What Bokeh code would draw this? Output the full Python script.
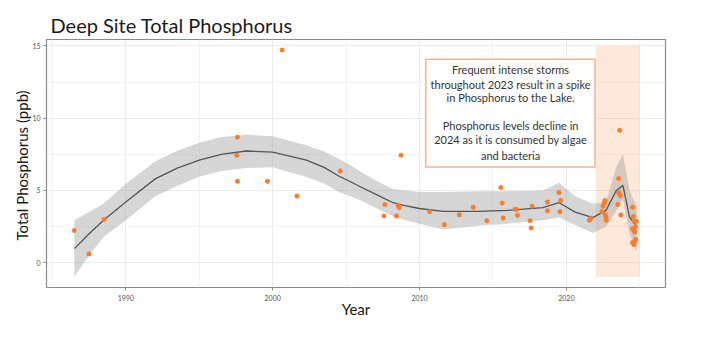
from bokeh.plotting import figure
from bokeh.models import FixedTicker, Range1d
from bokeh.core.properties import value
from bokeh.embed import file_html
from bokeh.resources import INLINE

# ---- data ----
years = [1986.49, 1987.49, 1988.53,
         1997.6, 1997.56, 1997.6, 1999.64, 2000.64, 2001.65, 2004.6,
         2008.74, 2007.65, 2007.58, 2008.55, 2008.62, 2008.43,
         2010.69, 2011.69, 2012.71, 2013.66, 2014.59, 2015.54, 2015.63, 2015.7,
         2016.51, 2016.6, 2016.67, 2017.53, 2017.6, 2017.67, 2018.71, 2018.71,
         2019.49, 2019.62, 2019.56, 2021.57, 2021.66,
         2022.63, 2022.58, 2022.5, 2022.43, 2022.63, 2022.7, 2022.72,
         2023.63, 2023.56, 2023.56, 2023.67, 2023.5, 2023.71,
         2024.51, 2024.56, 2024.62, 2024.76, 2024.51, 2024.58, 2024.65, 2024.72,
         2024.72, 2024.51, 2024.6, 2024.65]
phosphorus = [2.22, 0.6, 3.0,
              8.68, 7.43, 5.63, 5.63, 14.72, 4.61, 6.34,
              7.43, 4.02, 3.23, 3.97, 3.81, 3.23,
              3.53, 2.63, 3.32, 3.83, 2.91, 5.21, 4.13, 3.09,
              3.69, 3.69, 3.28, 2.91, 2.4, 3.9, 4.2, 3.6,
              4.85, 4.31, 3.53, 2.93, 3.07,
              4.31, 4.15, 3.9, 3.55, 3.34, 3.16, 2.93,
              9.16, 5.82, 4.85, 4.64, 4.02, 3.3,
              3.83, 3.21, 2.88, 2.86, 2.35, 2.29, 2.12, 2.49,
              1.61, 1.39, 1.25, 1.43]

fit_year = [1986.5, 1987.5, 1988.5, 1990.0, 1992.0, 1993.5, 1995.0, 1996.5,
            1998.2, 2000.0, 2002.3, 2003.5, 2004.5, 2005.3, 2006.0, 2007.0,
            2008.2, 2009.0, 2010.0, 2011.6, 2014.0, 2016.0, 2018.4,
            2019.5, 2020.6, 2021.8, 2022.7, 2023.4, 2023.85, 2024.3, 2024.8]
fit_val = [0.97, 2.0, 2.95, 4.2, 5.8, 6.55, 7.1, 7.5,
           7.73, 7.65, 7.1, 6.6, 6.0, 5.6, 5.24, 4.75,
           4.15, 3.95, 3.75, 3.55, 3.55, 3.62, 3.81,
           4.15, 3.5, 3.12, 3.62, 5.0, 5.35, 3.16, 2.5]
fit_lo = [-0.95, 0.5, 1.8, 2.93, 4.6, 5.3, 5.95, 6.35,
          6.55, 6.6, 5.93, 5.5, 4.9, 4.6, 4.3, 3.8,
          3.2, 2.95, 2.7, 2.3, 2.55, 2.7, 2.93,
          3.12, 2.6, 2.05, 2.5, 3.6, 4.4, 2.0, 0.73]
fit_hi = [2.93, 3.5, 4.1, 5.47, 7.0, 7.75, 8.3, 8.7,
          8.86, 8.75, 8.12, 7.7, 7.2, 6.75, 6.3, 5.7,
          5.1, 5.0, 4.9, 4.9, 4.95, 4.95, 5.0,
          5.54, 4.6, 4.08, 4.2, 6.6, 7.5, 5.0, 3.85]

highlight_start, highlight_end = 2022, 2025
highlight_low, highlight_high = -1, 15

x_ticks = [1990, 2000, 2010, 2020]
x_minor = [1985, 1995, 2005, 2015, 2025]
y_ticks = [0, 5, 10, 15]
y_minor = [2.5, 7.5, 12.5]

note_lines = ["Frequent intense storms",
              "throughout 2023 result in a spike",
              "in Phosphorus to the Lake.",
              "",
              "Phosphorus levels decline in",
              "2024 as it is consumed by algae",
              "and bacteria"]

FONT = "Lato"

p = figure(width=710, height=340, output_backend="svg", toolbar_location=None,
           x_range=Range1d(1984.6, 2026.75), y_range=Range1d(-1.72, 15.45),
           min_border_left=46, min_border_right=45, min_border_top=39,
           min_border_bottom=53)

p.title.text = "Deep Site Total Phosphorus"
p.title.text_font = FONT
p.title.text_font_size = "20px"
p.title.text_font_style = "normal"
p.title.text_color = "#1a1a1a"
p.title.offset = 4
p.title.standoff = 6

p.outline_line_color = "#8a8a8a"
p.outline_line_width = 1.2
p.background_fill_color = "white"
p.border_fill_color = "white"

for ax in (p.xaxis[0], p.yaxis[0]):
    ax.axis_line_color = None
    ax.major_tick_line_color = "#8a8a8a"
    ax.major_tick_out = 3
    ax.major_tick_in = 0
    ax.minor_tick_line_color = None
    ax.major_label_text_font = FONT
    ax.major_label_text_font_size = "7px"
    ax.major_label_text_color = "#555555"
    ax.axis_label_text_font = FONT
    ax.axis_label_text_font_size = "15px"
    ax.axis_label_text_font_style = "normal"
    ax.axis_label_text_color = "#1a1a1a"

p.xaxis.ticker = FixedTicker(ticks=x_ticks, minor_ticks=x_minor)
p.yaxis.ticker = FixedTicker(ticks=y_ticks, minor_ticks=y_minor)
p.xaxis.axis_label = "Year"
p.yaxis.axis_label = "Total Phosphorus  (ppb)"
p.xaxis.major_label_standoff = 3
p.xaxis.axis_label_standoff = -4
p.yaxis.major_label_standoff = 2
p.yaxis.axis_label_standoff = -2

p.xgrid.grid_line_color = "#ebebeb"
p.ygrid.grid_line_color = "#ebebeb"
p.xgrid.minor_grid_line_color = "#f3f3f3"
p.ygrid.minor_grid_line_color = "#f3f3f3"

# highlight band
p.quad(left=[highlight_start], right=[highlight_end], bottom=[highlight_low],
       top=[highlight_high], fill_color="#F58A3F", fill_alpha=0.2, line_color=None)

# smoother ribbon and line
p.varea(x=fit_year, y1=fit_lo, y2=fit_hi, fill_color="#999999", fill_alpha=0.4)
p.line(fit_year, fit_val, line_color="#555555", line_width=1.3)

# points
p.scatter(years, phosphorus, size=4.5, fill_color="#F47F30", line_color="#F47F30",
          line_width=0.5)

# annotation box
p.quad(left=[2010.43], right=[2021.95], bottom=[6.62], top=[14.08],
       fill_color="white", line_color="#F8B48A", line_width=1.5)
line_y = [13.35, 12.36, 11.46, 10.5, 9.47, 8.55, 7.45]
p.text(x=[2016.2] * len(note_lines), y=line_y, text=note_lines,
       text_font=value(FONT), text_font_size="11px", text_color="#333333",
       text_align="center", text_baseline="middle")

open("out.html", "w").write(file_html(p, INLINE))
